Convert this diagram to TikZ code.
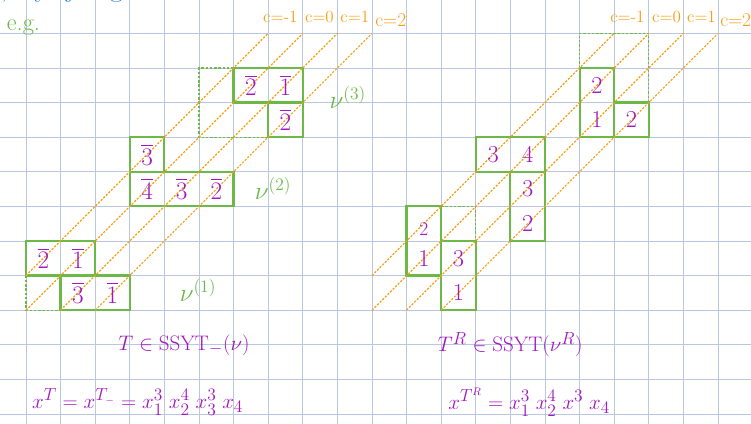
\documentclass[tikz,border=0pt]{standalone}
\usepackage{amsmath}

\definecolor{gridblue}{RGB}{186,199,224}
\definecolor{boxgreen}{RGB}{108,184,72}
\definecolor{inkpurple}{RGB}{160,24,190}
\definecolor{diagorange}{RGB}{245,160,20}
\definecolor{inkblue}{RGB}{30,120,240}

\begin{document}
\begin{tikzpicture}[
	gridline/.style={gridblue,line width=0.75pt},
	box/.style={boxgreen,line width=1.8pt},
	ghost/.style={boxgreen,line width=1pt,dash pattern=on 2pt off 1.5pt},
	diag/.style={diagorange,line width=1pt,dash pattern=on 1.8pt off 1.2pt},
	entry/.style={inkpurple,font=\fontsize{20}{24}\selectfont},
	clabel/.style={diagorange,font=\fontsize{14}{16}\selectfont,anchor=south west,inner sep=0pt},
	shapelabel/.style={boxgreen,font=\fontsize{22}{26}\selectfont},
	formula/.style={inkpurple,font=\fontsize{19}{22}\selectfont,anchor=west,inner sep=0pt}
	]
		
		\fill[white] (-0.751,-0.289) rectangle (20.954,11.965);
		\useasboundingbox (-0.751,-0.289) rectangle (20.954,11.965);
		
		\draw[gridline] (-0.76,0) -- (20.96,0);
		\draw[gridline] (-0.76,1) -- (20.96,1);
		\draw[gridline] (-0.76,2) -- (20.96,2);
		\draw[gridline] (-0.76,3) -- (20.96,3);
		\draw[gridline] (-0.76,4) -- (20.96,4);
		\draw[gridline] (-0.76,5) -- (20.96,5);
		\draw[gridline] (-0.76,6) -- (20.96,6);
		\draw[gridline] (-0.76,7) -- (20.96,7);
		\draw[gridline] (-0.76,8) -- (20.96,8);
		\draw[gridline] (-0.76,9) -- (20.96,9);
		\draw[gridline] (-0.76,10) -- (20.96,10);
		\draw[gridline] (-0.76,11) -- (20.96,11);
		
		\draw[gridline] (0,-0.3) -- (0,11.97);
		\draw[gridline] (1,-0.3) -- (1,11.97);
		\draw[gridline] (2,-0.3) -- (2,11.97);
		\draw[gridline] (3,-0.3) -- (3,11.97);
		\draw[gridline] (4,-0.3) -- (4,11.97);
		\draw[gridline] (5,-0.3) -- (5,11.97);
		\draw[gridline] (6,-0.3) -- (6,11.97);
		\draw[gridline] (7,-0.3) -- (7,11.97);
		\draw[gridline] (8,-0.3) -- (8,11.97);
		\draw[gridline] (9,-0.3) -- (9,11.97);
		\draw[gridline] (10,-0.3) -- (10,11.97);
		\draw[gridline] (11,-0.3) -- (11,11.97);
		\draw[gridline] (12,-0.3) -- (12,11.97);
		\draw[gridline] (13,-0.3) -- (13,11.97);
		\draw[gridline] (14,-0.3) -- (14,11.97);
		\draw[gridline] (15,-0.3) -- (15,11.97);
		\draw[gridline] (16,-0.3) -- (16,11.97);
		\draw[gridline] (17,-0.3) -- (17,11.97);
		\draw[gridline] (18,-0.3) -- (18,11.97);
		\draw[gridline] (19,-0.3) -- (19,11.97);
		\draw[gridline] (20,-0.3) -- (20,11.97);
		
		\node[inkblue,font=\fontsize{24}{28}\selectfont,anchor=base west] (scrap) at (-0.85,12.08) {,\ \ \ y\ \ j\ \ \ \ g\ \ \ \ .};
		\node[boxgreen,font=\fontsize{20}{24}\selectfont,anchor=base west,inner sep=0pt] (eg) at (-0.56,11.08) {e.g.};
		
		\draw[ghost] (0,4) -- (0,3) -- (1,3);
		\draw[ghost] (6,10) -- (5,10) -- (5,8) -- (7,8);
		\draw[box] (0,4) rectangle (2,5);
		\draw[box] (1,3) rectangle (3,4);
		\draw[box] (3,7) rectangle (4,8);
		\draw[box] (3,6) rectangle (6,7);
		\draw[box] (6,9) rectangle (8,10);
		\draw[box] (7,8) rectangle (8,9);
		
		\draw[ghost] (12,6) -- (13,6) -- (13,5);
		\draw[ghost] (16,10) -- (16,11) -- (18,11) -- (18,9);
		\draw[box] (11,4) rectangle (12,6);
		\draw[box] (12,3) rectangle (13,5);
		\draw[box] (13,7) rectangle (15,8);
		\draw[box] (14,5) rectangle (15,7);
		\draw[box] (16,8) rectangle (17,10);
		\draw[box] (17,8) rectangle (18,9);
		
		\draw[diag] (0,4) -- (7,11);
		\draw[diag] (0,3) -- (8,11);
		\draw[diag] (1,3) -- (9,11);
		\draw[diag] (2,3) -- (10,11);
		\draw[diag] (10,4) -- (17,11);
		\draw[diag] (10,3) -- (18,11);
		\draw[diag] (11,3) -- (19,11);
		\draw[diag] (12,3) -- (20,11);
		
		\node[clabel] (lc1) at (6.85,11.3) {c=-1};
		\node[clabel] (lc2) at (8.06,11.3) {c=0};
		\node[clabel] (lc3) at (9.08,11.3) {c=1};
		\node[clabel] (lc4) at (10.09,11.2) {\fontsize{16}{18}\selectfont c=2};
		\node[clabel] (rc1) at (16.88,11.3) {c=-1};
		\node[clabel] (rc2) at (18.09,11.3) {c=0};
		\node[clabel] (rc3) at (19.1,11.3) {c=1};
		\node[clabel] (rc4) at (20.06,11.2) {\fontsize{16}{18}\selectfont c=2};
		
		\node[entry] (l1) at (0.5,4.5) {$\overline{2}$};
		\node[entry] (l2) at (1.5,4.5) {$\overline{1}$};
		\node[entry] (l3) at (1.5,3.5) {$\overline{3}$};
		\node[entry] (l4) at (2.5,3.5) {$\overline{1}$};
		\node[entry] (l5) at (3.5,7.5) {$\overline{3}$};
		\node[entry] (l6) at (3.5,6.5) {$\overline{4}$};
		\node[entry] (l7) at (4.5,6.5) {$\overline{3}$};
		\node[entry] (l8) at (5.5,6.5) {$\overline{2}$};
		\node[entry] (l9) at (6.5,9.5) {$\overline{2}$};
		\node[entry] (l10) at (7.5,9.5) {$\overline{1}$};
		\node[entry] (l11) at (7.5,8.5) {$\overline{2}$};
		
		\node[entry] (r1) at (11.5,5.35) {\fontsize{16}{18}\selectfont 2};
		\node[entry] (r2) at (11.5,4.5) {1};
		\node[entry] (r3) at (12.5,4.5) {3};
		\node[entry] (r4) at (12.5,3.5) {1};
		\node[entry] (r5) at (13.5,7.5) {3};
		\node[entry] (r6) at (14.5,7.5) {4};
		\node[entry] (r7) at (14.5,6.5) {3};
		\node[entry] (r8) at (14.5,5.5) {2};
		\node[entry] (r9) at (16.5,9.5) {2};
		\node[entry] (r10) at (16.5,8.5) {1};
		\node[entry] (r11) at (17.5,8.5) {2};
		
		\node[shapelabel] (nu1) at (4.97,3.58) {$\nu^{(1)}$};
		\node[shapelabel] (nu2) at (7.14,6.53) {$\nu^{(2)}$};
		\node[shapelabel] (nu3) at (9.3,9.16) {$\nu^{(3)}$};
		
		\node[formula] (lset) at (2.66,2.0) {$T \in \mathrm{SSYT}_{-}(\nu)$};
		\node[formula] (lmono) at (0.17,0.35) {$x^{T} = x^{T_{-}} = x_1^3\;x_2^4\;x_3^3\;x_4$};
		\node[formula] (rset) at (11.9,2.0) {$T^{R} \in \mathrm{SSYT}(\nu^{R})$};
		\node[formula] (rmono) at (12.2,0.35) {$x^{T^{R}} = x_1^3\;x_2^4\;x^3\;x_4$};
	\end{tikzpicture}
\end{document}
